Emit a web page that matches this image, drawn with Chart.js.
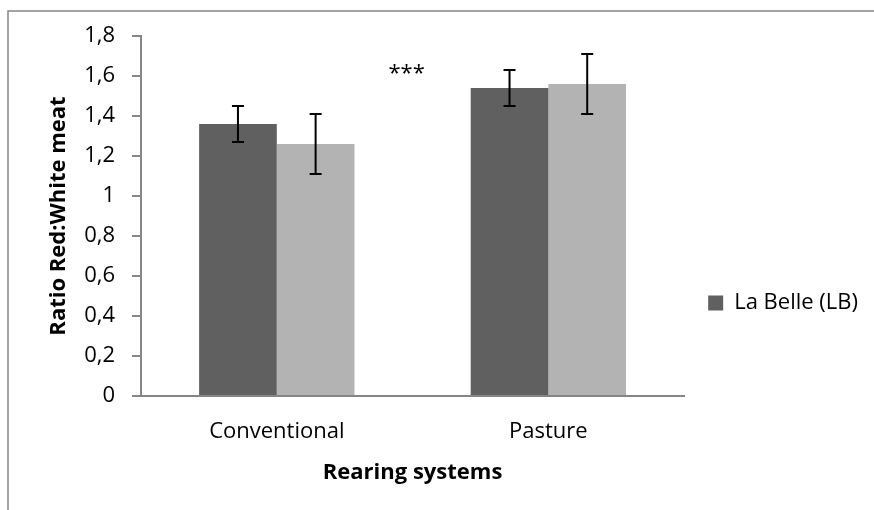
<!DOCTYPE html>
<html lang="en">
<head>
    <meta charset="UTF-8">
    <title>Ratio Red:White meat</title>
    <script src="https://cdn.jsdelivr.net/npm/chart.js"></script>
    <style>
        body { margin: 0; background: #fff; }
        #wrap { width: 874px; height: 510px; }
    </style>
</head>
<body>
    <div id="wrap"><canvas id="meatChart"></canvas></div>

    <script>
        const categories = ['Conventional', 'Pasture'];
        const seriesNames = ['La Belle (LB)', 'Series 2'];
        const lbValues = [1.36, 1.54];
        const lbErrLow = [1.27, 1.45];
        const lbErrHigh = [1.45, 1.63];
        const s2Values = [1.26, 1.56];
        const s2ErrLow = [1.11, 1.41];
        const s2ErrHigh = [1.41, 1.71];
        const yTicks = [0, 0.2, 0.4, 0.6, 0.8, 1, 1.2, 1.4, 1.6, 1.8];
        const starText = '***';
        const starValue = 1.61;

        const FONT = 'Open Sans';

        // thin frame like the excel chart border (top + left only visible)
        const frame = {
            id: 'frame',
            beforeDraw(chart) {
                const ctx = chart.ctx;
                ctx.save();
                ctx.strokeStyle = '#868686';
                ctx.lineWidth = 1.5;
                ctx.beginPath();
                ctx.moveTo(8, 510);
                ctx.lineTo(8, 11);
                ctx.lineTo(874, 11);
                ctx.stroke();
                ctx.restore();
            }
        };

        const errorBars = {
            id: 'errorBars',
            afterDatasetsDraw(chart) {
                const ctx = chart.ctx;
                const y = chart.scales.y;
                const lows = [lbErrLow, s2ErrLow];
                const highs = [lbErrHigh, s2ErrHigh];
                ctx.save();
                ctx.strokeStyle = '#000';
                ctx.lineWidth = 2;
                chart.data.datasets.forEach((ds, i) => {
                    chart.getDatasetMeta(i).data.forEach((bar, j) => {
                        const x = bar.x;
                        const yl = y.getPixelForValue(lows[i][j]);
                        const yh = y.getPixelForValue(highs[i][j]);
                        ctx.beginPath();
                        ctx.moveTo(x, yl); ctx.lineTo(x, yh);
                        ctx.moveTo(x - 6, yl); ctx.lineTo(x + 6, yl);
                        ctx.moveTo(x - 6, yh); ctx.lineTo(x + 6, yh);
                        ctx.stroke();
                    });
                });
                // significance stars between the two groups
                const xs = chart.scales.x;
                const sx = (xs.getPixelForValue(0) + xs.getPixelForValue(1)) / 2;
                ctx.fillStyle = '#000';
                ctx.font = '22px "' + FONT + '"';
                ctx.textAlign = 'center';
                ctx.textBaseline = 'middle';
                ctx.fillText(starText, sx - 6, y.getPixelForValue(starValue));
                ctx.restore();
            }
        };

        // push the legend down to where excel had it
        const legendShift = {
            id: 'legendShift',
            afterLayout(chart) {
                chart.legend.top += 40;
                chart.legend.bottom += 40;
            }
        };

        const ctx = document.getElementById('meatChart').getContext('2d');
        new Chart(ctx, {
            type: 'bar',
            data: {
                labels: categories,
                datasets: [{
                    label: seriesNames[0],
                    data: lbValues,
                    backgroundColor: '#606060',
                    categoryPercentage: 0.572,
                    barPercentage: 1
                }, {
                    label: seriesNames[1],
                    data: s2Values,
                    backgroundColor: '#b3b3b3',
                    categoryPercentage: 0.572,
                    barPercentage: 1
                }]
            },
            options: {
                responsive: true,
                maintainAspectRatio: false,
                animation: false,
                layout: { padding: { left: 8, right: 6, top: 36, bottom: 20 } },
                plugins: {
                    tooltip: { enabled: false },
                    legend: {
                        position: 'right',
                        labels: {
                            boxWidth: 15,
                            boxHeight: 15,
                            padding: 24,
                            color: '#000',
                            font: { family: FONT, size: 22 },
                            filter: item => item.datasetIndex === 0
                        }
                    }
                },
                scales: {
                    x: {
                        afterFit: axis => { axis.height = 94; },
                        grid: { display: false, drawTicks: false },
                        border: { color: '#868686', width: 2 },
                        ticks: { padding: 23, color: '#000', font: { family: FONT, size: 22 } },
                        title: {
                            display: true,
                            text: 'Rearing systems',
                            color: '#000',
                            font: { family: FONT, size: 22, weight: 'bold' },
                            padding: { top: 4, bottom: 4 }
                        }
                    },
                    y: {
                        min: 0,
                        max: 1.8,
                        afterBuildTicks: axis => { axis.ticks = yTicks.map(v => ({ value: v })); },
                        afterFit: axis => { axis.width = 133; },
                        grid: { drawOnChartArea: false, tickLength: 9, color: '#868686', lineWidth: 2 },
                        border: { color: '#868686', width: 2 },
                        ticks: {
                            padding: 17,
                            color: '#000',
                            font: { family: FONT, size: 22 },
                            callback: v => String(Math.round(v * 10) / 10).replace('.', ',')
                        },
                        title: {
                            display: true,
                            text: 'Ratio Red:White meat',
                            color: '#000',
                            font: { family: FONT, size: 22, weight: 'bold' },
                            padding: { top: 38, bottom: 0 }
                        }
                    }
                }
            },
            plugins: [frame, errorBars, legendShift]
        });
    </script>
</body>
</html>
